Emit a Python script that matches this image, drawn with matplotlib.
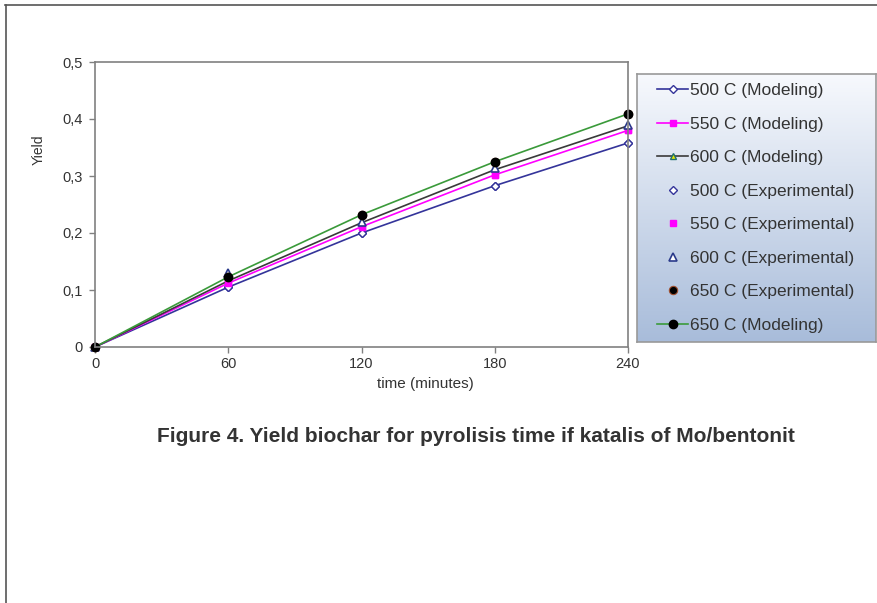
import matplotlib
matplotlib.use('Agg')
import matplotlib.pyplot as plt
from matplotlib.lines import Line2D
import numpy as np

plt.rcParams['font.family'] = ['Liberation Sans', 'DejaVu Sans']

# data
time = [0, 60, 120, 180, 240]
mod_500 = [0, 0.105, 0.200, 0.283, 0.358]
mod_550 = [0, 0.112, 0.211, 0.302, 0.380]
mod_600 = [0, 0.116, 0.218, 0.311, 0.388]
mod_650 = [0, 0.123, 0.232, 0.325, 0.409]
exp_500 = [0, 0.105, 0.200, 0.283, 0.358]
exp_550 = [0, 0.112, 0.211, 0.302, 0.380]
exp_600 = [0, 0.130, 0.220, 0.314, 0.390]
exp_650 = [0, 0.123, 0.232, 0.325, 0.409]
yticks = [0, 0.1, 0.2, 0.3, 0.4, 0.5]
ytick_labels = ['0', '0,1', '0,2', '0,3', '0,4', '0,5']

fig = plt.figure(figsize=(8.77, 6.03), dpi=100)

# outer frame (top and left edges only visible)
fig.add_artist(Line2D([5 / 877, 1], [1 - 5 / 603, 1 - 5 / 603], color='#555555', lw=1.2))
fig.add_artist(Line2D([6 / 877, 6 / 877], [0, 1 - 5 / 603], color='#555555', lw=1.2))

ax = fig.add_axes([95 / 877, 1 - 347 / 603, (628 - 95) / 877, (347 - 62) / 603])

h1, = ax.plot(time, mod_500, color='#34349a', lw=1.2, marker='D', ms=4,
              mfc='white', mec='#34349a', mew=1.0, label='500 C (Modeling)')
h2, = ax.plot(time, mod_550, color='#ff00ff', lw=1.2, marker='s', ms=5,
              mfc='#ff00ff', mec='#ff00ff', label='550 C (Modeling)')
h3, = ax.plot(time, mod_600, color='#3a3a3a', lw=1.2, marker='^', ms=5,
              mfc='#e8e800', mec='#1f6f6f', mew=1.0, label='600 C (Modeling)')
h4, = ax.plot(time, exp_500, ls='none', marker='D', ms=4,
              mfc='white', mec='#34349a', mew=1.0, label='500 C (Experimental)')
h5, = ax.plot(time, exp_550, ls='none', marker='s', ms=5,
              mfc='#ff00ff', mec='#ff00ff', label='550 C (Experimental)')
h6, = ax.plot(time, exp_600, ls='none', marker='^', ms=6,
              mfc='white', mec='#2a3a8a', mew=1.2, label='600 C (Experimental)')
h7, = ax.plot(time, exp_650, ls='none', marker='o', ms=6,
              mfc='black', mec='#a05030', mew=0.8, label='650 C (Experimental)')
h8, = ax.plot(time, mod_650, color='#3a9a3a', lw=1.2, marker='o', ms=6,
              mfc='black', mec='black', label='650 C (Modeling)')

ax.set_xlim(0, 240)
ax.set_ylim(0, 0.5)
ax.set_xticks(time)
ax.set_yticks(yticks)
ax.set_yticklabels(ytick_labels)
for sp in ax.spines.values():
    sp.set_color('#808080')
    sp.set_linewidth(1.2)
ax.tick_params(colors='#808080', labelcolor='#333333', labelsize=10.5, length=4, width=1)
ax.tick_params(axis='y', pad=5)
ax.set_xlabel('time (minutes)', fontsize=11, color='#333333')
ax.xaxis.set_label_coords((425 - 95) / 533, (347 - 377) / 285)
ax.set_ylabel('Yield', fontsize=10, color='#333333')
ax.yaxis.set_label_coords((46 - 95) / 533, (347 - 150) / 285)
for ln in ax.lines:
    ln.set_clip_on(False)

# legend box with vertical gradient
lax = fig.add_axes([637 / 877, 1 - 342 / 603, (876 - 637) / 877, (342 - 74) / 603])
top = np.array([247, 249, 253]) / 255
bot = np.array([168, 188, 218]) / 255
t = np.linspace(0, 1, 256)[:, None]
grad = (top[None, :] * (1 - t) + bot[None, :] * t)[:, None, :]
lax.imshow(grad, aspect='auto', extent=[0, 1, 0, 1])
lax.set_xticks([])
lax.set_yticks([])
for sp in lax.spines.values():
    sp.set_color('#999999')
    sp.set_linewidth(1.2)

handles = [h1, h2, h3, h4, h5, h6, h7, h8]
leg = lax.legend(handles, [h.get_label() for h in handles], loc='center left',
                 bbox_to_anchor=(0.0, 0.5), frameon=False, fontsize=12.5,
                 handlelength=1.8, handletextpad=0.1, labelspacing=1.06,
                 borderaxespad=0.75, labelcolor='#333333')

fig.text(476 / 877, 1 - 436 / 603,
         'Figure 4. Yield biochar for pyrolisis time if katalis of Mo/bentonit',
         ha='center', va='center', fontsize=15, fontweight='bold', color='#333333')

fig.savefig('out.png', dpi=100)
